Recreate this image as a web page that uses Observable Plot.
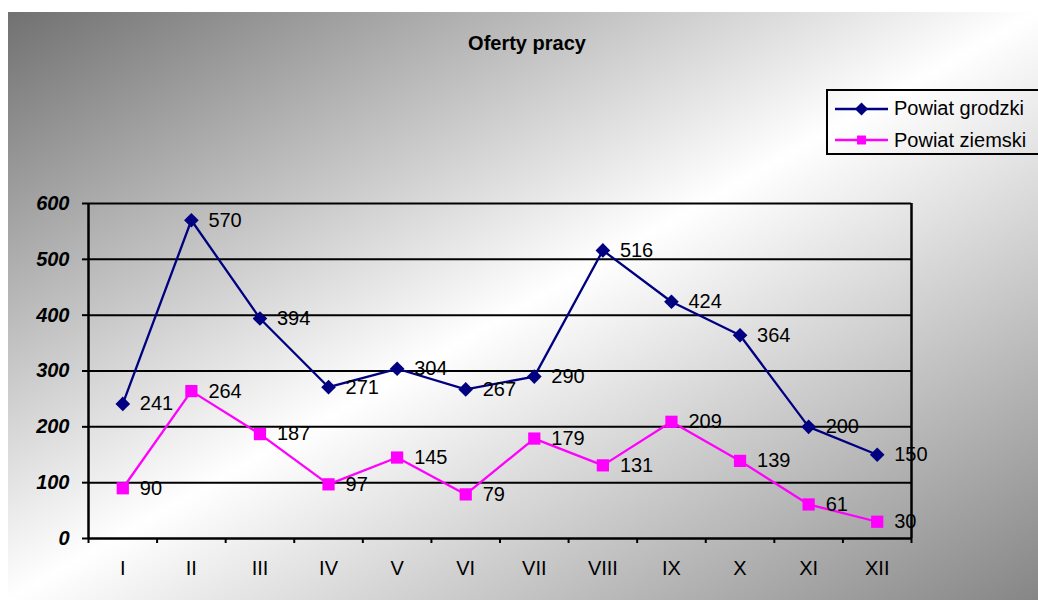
<!DOCTYPE html>
<html>
<head>
<meta charset="utf-8">
<script src="https://cdn.jsdelivr.net/npm/d3@7"></script>
<script src="https://cdn.jsdelivr.net/npm/@observablehq/plot@0.6"></script>
<style>
  html, body { margin: 0; padding: 0; overflow: hidden; width: 1038px; height: 600px; background: #fff; }
  #bg { position: absolute; left: 8px; top: 12px; width: 1030px; height: 588px;
        background: linear-gradient(to bottom right, #717171 0%, #ffffff 50%, #868686 100%); }
  #chart { position: absolute; left: 0; top: 0; }
  #title { position: absolute; left: 427px; top: 31px; width: 200px; text-align: center;
           font: bold 20px "Liberation Sans", Arial, sans-serif; color: #000; line-height: 24px; }
  #legend { position: absolute; left: 826px; top: 89px; width: 240px; height: 66px;
            box-sizing: border-box; border: 2.5px solid #000; }
  .lg-row { position: absolute; left: 7px; height: 24px; display: flex; align-items: center; }
  .lg-row span { font: 20px "Liberation Sans", Arial, sans-serif; color: #000; margin-left: 6px; white-space: nowrap; }
</style>
</head>
<body>
<div id="bg"></div>
<div id="chart"></div>
<div id="title">Oferty pracy</div>
<div id="legend"></div>
<script>
const months = ["I","II","III","IV","V","VI","VII","VIII","IX","X","XI","XII"];
const grodzki = [241, 570, 394, 271, 304, 267, 290, 516, 424, 364, 200, 150];
const ziemski = [90, 264, 187, 97, 145, 79, 179, 131, 209, 139, 61, 30];
const seriesNames = ["Powiat grodzki", "Powiat ziemski"];
const seriesColors = ["#000080", "#ff00ff"];
const yTicks = [0, 100, 200, 300, 400, 500, 600];

const font = '"Liberation Sans", Arial, sans-serif';
const rows = [];
[grodzki, ziemski].forEach((vals, s) => {
  vals.forEach((v, i) => rows.push({series: seriesNames[s], idx: i + 0.5, month: months[i], value: v}));
});
const g = rows.filter(d => d.series === seriesNames[0]);
const z = rows.filter(d => d.series === seriesNames[1]);

const chart = Plot.plot({
  width: 1038,
  height: 600,
  marginLeft: 88,
  marginRight: 127,
  marginTop: 203,
  marginBottom: 62,
  style: {background: "transparent", fontFamily: font, color: "#000"},
  x: {type: "linear", domain: [0, months.length], axis: null, label: null},
  y: {domain: [0, 600], axis: null, label: null},
  marks: [
    Plot.ruleY(yTicks.slice(1), {stroke: "#000", strokeWidth: 2}),
    Plot.axisY({ticks: yTicks, label: null, tickSize: 6, tickPadding: 13, strokeWidth: 2, fontSize: 20,
                fontWeight: "bold", fontStyle: "italic", fontFamily: font, fill: "#000"}),
    Plot.axisX({ticks: d3.range(months.length + 1), label: null, tickSize: 5, tickFormat: () => "", strokeWidth: 2}),
    Plot.axisX({ticks: months.map((m, i) => i + 0.5), label: null, tickSize: 0, tickPadding: 22,
                tickFormat: t => months[Math.floor(t)], fontSize: 20, fontFamily: font, fill: "#000"}),
    Plot.ruleY([0], {stroke: "#000", strokeWidth: 2.5}),
    Plot.ruleX([0], {stroke: "#000", strokeWidth: 2.5}),
    Plot.ruleX([months.length], {stroke: "#000", strokeWidth: 2.5}),
    Plot.line(g, {x: "idx", y: "value", stroke: seriesColors[0], strokeWidth: 2.3}),
    Plot.line(z, {x: "idx", y: "value", stroke: seriesColors[1], strokeWidth: 2.3}),
    Plot.text(rows, {x: "idx", y: "value", text: d => String(d.value), dx: 17, textAnchor: "start",
                     fontSize: 20, fontFamily: font, fill: "#000"}),
    Plot.dot(g, {x: "idx", y: "value", symbol: "diamond2", r: 6.6, fill: seriesColors[0], stroke: "none"}),
    Plot.dot(z, {x: "idx", y: "value", symbol: "square", r: 6.9, fill: seriesColors[1], stroke: "none"})
  ]
});
document.getElementById("chart").appendChild(chart);

// Legend
const legend = document.getElementById("legend");
const symbols = [d3.symbolDiamond2, d3.symbolSquare];
const symSizes = [110, 80];
const rowTops = [5.5, 37];
seriesNames.forEach((name, s) => {
  const row = document.createElement("div");
  row.className = "lg-row";
  row.style.top = rowTops[s] + "px";
  const svg = d3.create("svg").attr("width", 53).attr("height", 24);
  svg.append("line").attr("x1", 0).attr("x2", 53).attr("y1", 12).attr("y2", 12)
     .attr("stroke", seriesColors[s]).attr("stroke-width", 2.3);
  svg.append("path").attr("d", d3.symbol(symbols[s], symSizes[s])())
     .attr("transform", "translate(26.5,12)").attr("fill", seriesColors[s]);
  row.appendChild(svg.node());
  const span = document.createElement("span");
  span.textContent = name;
  row.appendChild(span);
  legend.appendChild(row);
});
</script>
</body>
</html>
